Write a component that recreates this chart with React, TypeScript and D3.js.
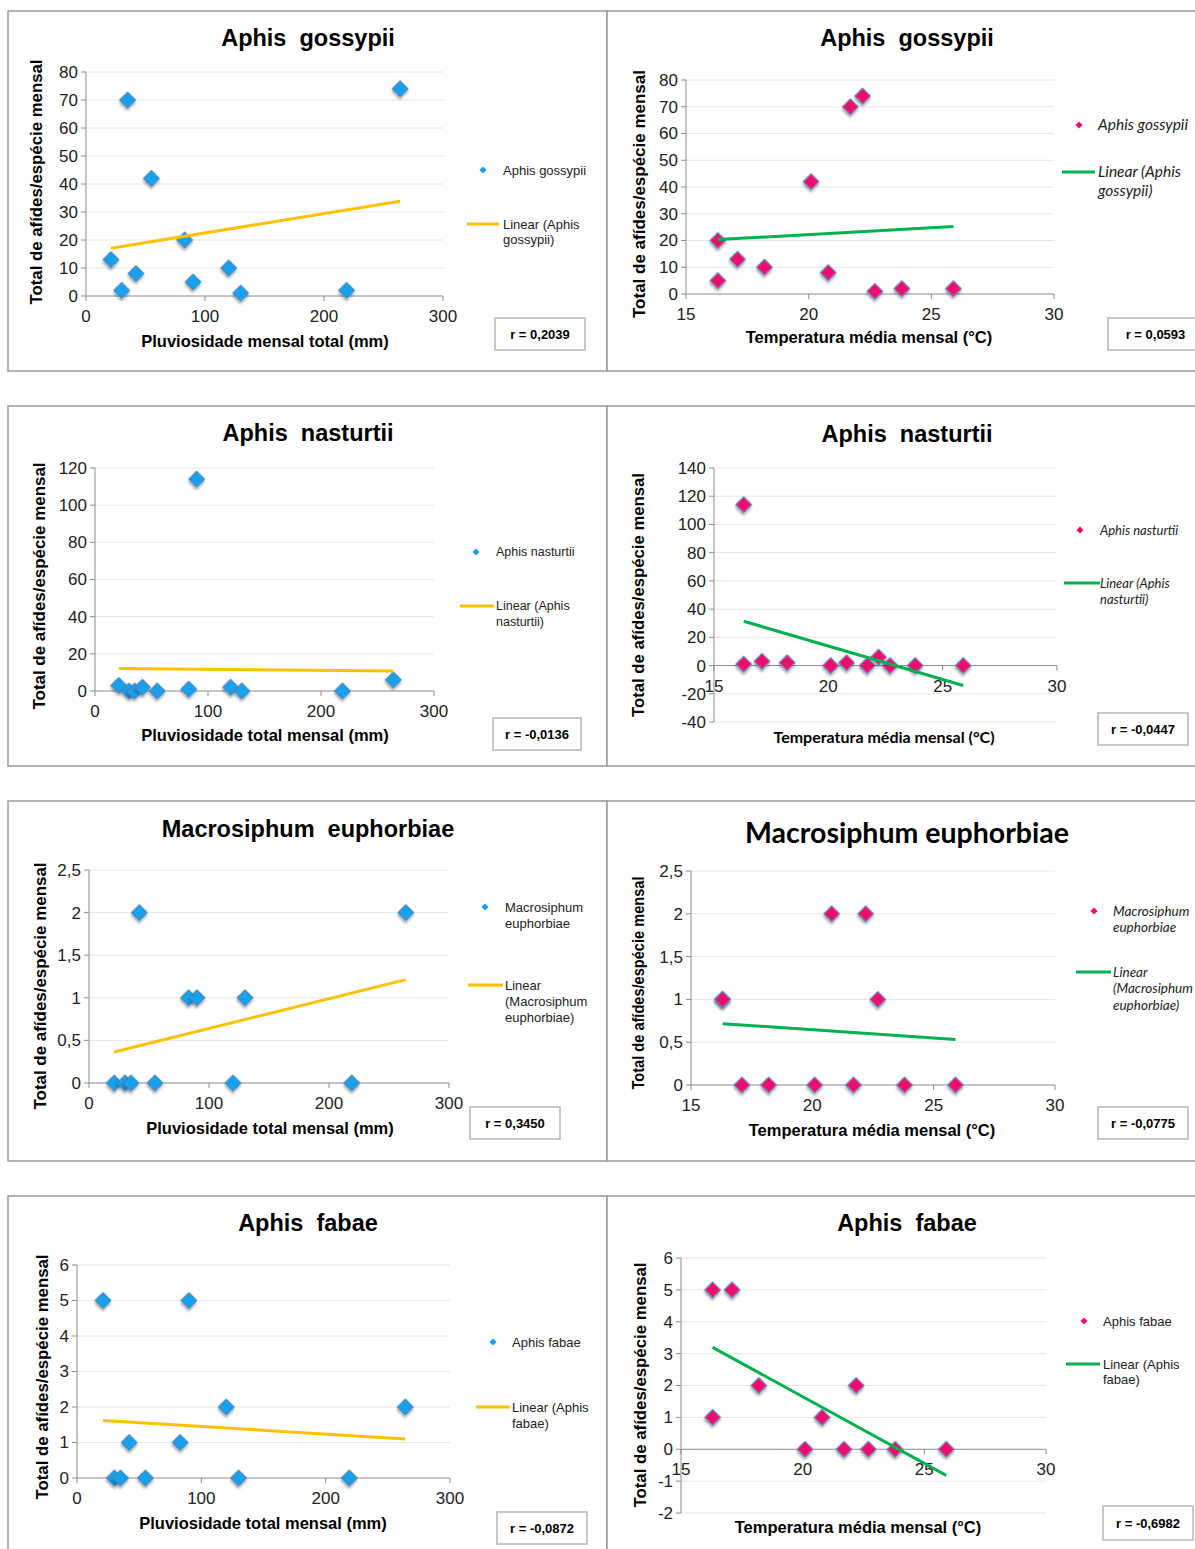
import * as d3 from 'd3'

// monthly climate values (one entry per sampled month)
const rainfall = [21, 30, 35, 42, 55, 83, 90, 120, 130, 219, 264]
const temperature = [17.1, 25.9, 21.7, 20.8, 20.1, 16.3, 16.3, 18.2, 22.7, 23.8, 22.2]

// monthly aphid totals per species
const gossypii = [13, 2, 70, 8, 42, 20, 5, 10, 1, 2, 74]
const nasturtii = [3, 0, 0, 2, 0, 1, 114, 2, 0, 0, 6]
const euphorbiae = [0, 0, 0, 2, 0, 1, 1, 0, 1, 0, 2]
const fabae = [5, 0, 0, 1, 0, 1, 5, 2, 0, 0, 2]

const rainTicks = [0, 100, 200, 300]
const tempTicks = [15, 20, 25, 30]
const ticksGossypii = [0, 10, 20, 30, 40, 50, 60, 70, 80]
const ticksNastRain = [0, 20, 40, 60, 80, 100, 120]
const ticksNastTemp = [-40, -20, 0, 20, 40, 60, 80, 100, 120, 140]
const ticksEuph = [0, 0.5, 1, 1.5, 2, 2.5]
const ticksFabRain = [0, 1, 2, 3, 4, 5, 6]
const ticksFabTemp = [-2, -1, 0, 1, 2, 3, 4, 5, 6]

const rLabels = ['r = 0,2039', 'r = 0,0593', 'r = -0,0136', 'r = -0,0447', 'r = 0,3450', 'r = -0,0775', 'r = -0,0872', 'r = -0,6982']
const yTitle = 'Total de afídes/espécie mensal'

const ARIAL = '"Liberation Sans", Arial, sans-serif'
const CALI = 'Lato, "Open Sans", sans-serif'
const BLUE = '#12a1ea'
const PINK = '#ee106d'
const YELLOW = '#ffc000'
const GREEN = '#00b050'

const panels = [
  {
    values: gossypii, vs: 'rain', ticks: ticksGossypii, box: [8, 11, 607, 371], x0: 86, x1: 443, yTop: 72, yBot: 296,
    title: 'Aphis  gossypii', titleY: 38, titleFont: ARIAL, titleSize: 23.5,
    xLabel: 'Pluviosidade mensal total (mm)', xLabelX: 265, xLabelY: 341, xLabelFont: ARIAL,
    yLabelX: 36, yLabelY: 182, yLabelLen: 245,
    leg: { mx: 483, my: 170, lx0: 467, lx1: 499, ly: 224, tx: 503, italic: false, fs: 13, font: ARIAL, name: ['Aphis gossypii'], lin: ['Linear (Aphis', 'gossypii)'], lh: 15 },
    rBox: [495, 318, 90, 32],
  },
  {
    values: gossypii, vs: 'temp', ticks: ticksGossypii, box: [607, 11, 1210, 371], x0: 686, x1: 1054, yTop: 80, yBot: 294,
    title: 'Aphis  gossypii', titleY: 38, titleFont: ARIAL, titleSize: 23.5,
    xLabel: 'Temperatura média mensal (°C)', xLabelX: 869, xLabelY: 337, xLabelFont: ARIAL,
    yLabelX: 639, yLabelY: 194, yLabelLen: 248,
    leg: { mx: 1079, my: 125, lx0: 1062, lx1: 1095, ly: 172, tx: 1098, italic: true, fs: 15.5, font: CALI, name: ['Aphis gossypii'], lin: ['Linear (Aphis', 'gossypii)'], lh: 19 },
    rBox: [1108, 318, 95, 32],
  },
  {
    values: nasturtii, vs: 'rain', ticks: ticksNastRain, box: [8, 406, 607, 766], x0: 95, x1: 434, yTop: 468, yBot: 691,
    title: 'Aphis  nasturtii', titleY: 433, titleFont: ARIAL, titleSize: 23.5,
    xLabel: 'Pluviosidade total mensal (mm)', xLabelX: 265, xLabelY: 735, xLabelFont: ARIAL,
    yLabelX: 39, yLabelY: 586, yLabelLen: 247,
    leg: { mx: 476, my: 552, lx0: 460, lx1: 494, ly: 606, tx: 496, italic: false, fs: 12.5, font: ARIAL, name: ['Aphis nasturtii'], lin: ['Linear (Aphis', 'nasturtii)'], lh: 16 },
    rBox: [493, 718, 88, 32],
  },
  {
    values: nasturtii, vs: 'temp', ticks: ticksNastTemp, box: [607, 406, 1210, 766], x0: 714, x1: 1057, yTop: 468, yBot: 722,
    title: 'Aphis  nasturtii', titleY: 434, titleFont: ARIAL, titleSize: 23.5,
    xLabel: 'Temperatura média mensal (°C)', xLabelX: 884, xLabelY: 737, xLabelFont: CALI, xLabelSize: 16,
    yLabelX: 638, yLabelY: 595, yLabelLen: 244,
    leg: { mx: 1080, my: 530, lx0: 1064, lx1: 1100, ly: 583, tx: 1100, italic: true, fs: 13, font: CALI, name: ['Aphis nasturtii'], lin: ['Linear (Aphis', 'nasturtii)'], lh: 16 },
    rBox: [1098, 713, 90, 32],
  },
  {
    values: euphorbiae, vs: 'rain', ticks: ticksEuph, box: [8, 801, 607, 1161], x0: 89, x1: 449, yTop: 870, yBot: 1083,
    title: 'Macrosiphum  euphorbiae', titleY: 829, titleFont: ARIAL, titleSize: 23.5,
    xLabel: 'Pluviosidade total mensal (mm)', xLabelX: 270, xLabelY: 1128, xLabelFont: ARIAL,
    yLabelX: 40, yLabelY: 986, yLabelLen: 247,
    leg: { mx: 485, my: 907, lx0: 468, lx1: 503, ly: 985, tx: 505, italic: false, fs: 13, font: ARIAL, name: ['Macrosiphum', 'euphorbiae'], lin: ['Linear', '(Macrosiphum', 'euphorbiae)'], lh: 16 },
    rBox: [470, 1107, 90, 32],
  },
  {
    values: euphorbiae, vs: 'temp', ticks: ticksEuph, box: [607, 801, 1210, 1161], x0: 691, x1: 1055, yTop: 871, yBot: 1085,
    title: 'Macrosiphum euphorbiae', titleY: 833, titleFont: CALI, titleSize: 28.5,
    xLabel: 'Temperatura média mensal (°C)', xLabelX: 872, xLabelY: 1130, xLabelFont: ARIAL,
    yLabelX: 638, yLabelY: 983, yLabelLen: 213,
    leg: { mx: 1094, my: 911, lx0: 1076, lx1: 1111, ly: 972, tx: 1113, italic: true, fs: 13.5, font: CALI, name: ['Macrosiphum', 'euphorbiae'], lin: ['Linear', '(Macrosiphum', 'euphorbiae)'], lh: 16.5 },
    rBox: [1098, 1107, 90, 32],
  },
  {
    values: fabae, vs: 'rain', ticks: ticksFabRain, box: [8, 1196, 607, 1570], x0: 77, x1: 450, yTop: 1265, yBot: 1478,
    title: 'Aphis  fabae', titleY: 1223, titleFont: ARIAL, titleSize: 23.5,
    xLabel: 'Pluviosidade total mensal (mm)', xLabelX: 263, xLabelY: 1523, xLabelFont: ARIAL,
    yLabelX: 42, yLabelY: 1377, yLabelLen: 245,
    leg: { mx: 493, my: 1342, lx0: 476, lx1: 510, ly: 1407, tx: 512, italic: false, fs: 13, font: ARIAL, name: ['Aphis fabae'], lin: ['Linear (Aphis', 'fabae)'], lh: 16 },
    rBox: [497, 1512, 90, 32],
  },
  {
    values: fabae, vs: 'temp', ticks: ticksFabTemp, box: [607, 1196, 1210, 1570], x0: 681, x1: 1046, yTop: 1258, yBot: 1513,
    title: 'Aphis  fabae', titleY: 1223, titleFont: ARIAL, titleSize: 23.5,
    xLabel: 'Temperatura média mensal (°C)', xLabelX: 858, xLabelY: 1527, xLabelFont: ARIAL,
    yLabelX: 640, yLabelY: 1385, yLabelLen: 245,
    leg: { mx: 1084, my: 1321, lx0: 1066, lx1: 1100, ly: 1364, tx: 1103, italic: false, fs: 13, font: ARIAL, name: ['Aphis fabae'], lin: ['Linear (Aphis', 'fabae)'], lh: 15 },
    rBox: [1103, 1506, 90, 34],
  },
]

const bigDiamond = d3.symbol(d3.symbolSquare, 128)()
const smallDiamond = d3.symbol(d3.symbolSquare, 26)()
const fmt = (d: number) => String(d).replace('.', ',')

function Panel({ p, idx }: { p: any; idx: number }) {
  const xs = p.vs === 'rain' ? rainfall : temperature
  const xTicks = p.vs === 'rain' ? rainTicks : tempTicks
  const ys: number[] = p.values
  const fill = p.vs === 'rain' ? BLUE : PINK
  const trendColor = p.vs === 'rain' ? YELLOW : GREEN

  const x = d3.scaleLinear().domain([xTicks[0], xTicks[xTicks.length - 1]]).range([p.x0, p.x1])
  const y = d3.scaleLinear().domain([p.ticks[0], p.ticks[p.ticks.length - 1]]).range([p.yBot, p.yTop])

  // least squares trend line over the data range
  const mx = d3.mean(xs) as number
  const my = d3.mean(ys) as number
  const sxy = d3.sum(xs, (v, i) => (v - mx) * (ys[i] - my))
  const sxx = d3.sum(xs, (v) => (v - mx) ** 2)
  const slope = sxy / sxx
  const icpt = my - slope * mx
  const [lo, hi] = d3.extent(xs) as [number, number]
  const trend = d3.line()([
    [x(lo), y(icpt + slope * lo)],
    [x(hi), y(icpt + slope * hi)],
  ])

  const y0 = y(0)
  const [bx0, by0, bx1, by1] = p.box
  const L = p.leg
  const legStyle = L.italic ? 'italic' : 'normal'

  return (
    <g>
      <rect x={bx0} y={by0} width={bx1 - bx0} height={by1 - by0} fill="#fff" stroke="#9a9a9a" strokeWidth={1.5} />
      <text x={bx0 + 300} y={p.titleY} textAnchor="middle" dy="0.35em"
        fontFamily={p.titleFont} fontWeight="bold" fontSize={p.titleSize} style={{ whiteSpace: 'pre' }}>
        {p.title}
      </text>

      {p.ticks.map((t: number) => (
        <g key={'g' + t}>
          {t !== 0 && <line x1={p.x0} x2={p.x1} y1={y(t)} y2={y(t)} stroke="#e8e8de" strokeWidth={1} />}
          <line x1={p.x0 - 5} x2={p.x0} y1={y(t)} y2={y(t)} stroke="#8c8c8c" />
          <text x={p.x0 - 8} y={y(t)} dy="0.35em" textAnchor="end" fontFamily={ARIAL} fontSize={17} fill="#222">
            {fmt(t)}
          </text>
        </g>
      ))}
      <line x1={p.x0} x2={p.x0} y1={p.yTop} y2={p.yBot} stroke="#8c8c8c" />
      <line x1={p.x0} x2={p.x1} y1={y0} y2={y0} stroke="#8c8c8c" />
      {xTicks.map((t: number) => (
        <g key={'x' + t}>
          <line x1={x(t)} x2={x(t)} y1={y0} y2={y0 + 5} stroke="#8c8c8c" />
          <text x={x(t)} y={y0 + 20} dy="0.35em" textAnchor="middle" fontFamily={ARIAL} fontSize={17} fill="#222">
            {t}
          </text>
        </g>
      ))}

      {xs.map((v, i) => (
        <path key={'m' + i} d={bigDiamond as string} transform={`translate(${x(v)},${y(ys[i])}) rotate(45)`}
          fill={fill} stroke="#4a7ebb" strokeWidth={1} filter="url(#sh)" />
      ))}
      <path d={trend as string} stroke={trendColor} strokeWidth={3} fill="none" />

      <text x={p.xLabelX} y={p.xLabelY} dy="0.35em" textAnchor="middle" fontFamily={p.xLabelFont}
        fontWeight="bold" fontSize={p.xLabelSize || 16.5}>
        {p.xLabel}
      </text>
      <text transform={`translate(${p.yLabelX},${p.yLabelY}) rotate(-90)`} dy="0.35em" textAnchor="middle"
        fontFamily={ARIAL} fontWeight="bold" fontSize={16.5} textLength={p.yLabelLen} lengthAdjust="spacingAndGlyphs">
        {yTitle}
      </text>

      <path d={smallDiamond as string} transform={`translate(${L.mx},${L.my}) rotate(45)`} fill={fill} />
      {L.name.map((s: string, i: number) => (
        <text key={'n' + i} x={L.tx} y={L.my + i * L.lh} dy="0.35em" fontFamily={L.font} fontStyle={legStyle}
          fontSize={L.fs} fill="#222">
          {s}
        </text>
      ))}
      <line x1={L.lx0} x2={L.lx1} y1={L.ly} y2={L.ly} stroke={trendColor} strokeWidth={3} />
      {L.lin.map((s: string, i: number) => (
        <text key={'l' + i} x={L.tx} y={L.ly + i * L.lh} dy="0.35em" fontFamily={L.font} fontStyle={legStyle}
          fontSize={L.fs} fill="#222">
          {s}
        </text>
      ))}

      <rect x={p.rBox[0]} y={p.rBox[1]} width={p.rBox[2]} height={p.rBox[3]} fill="#fff" stroke="#b5b5b5" strokeWidth={1.5} />
      <text x={p.rBox[0] + p.rBox[2] / 2} y={p.rBox[1] + p.rBox[3] / 2} dy="0.35em" textAnchor="middle"
        fontFamily={ARIAL} fontWeight="bold" fontSize={13}>
        {rLabels[idx]}
      </text>
    </g>
  )
}

export default function App() {
  return (
    <svg width={1195} height={1549} style={{ position: 'absolute', left: 0, top: 0, background: '#fff' }}>
      <defs>
        <filter id="sh" x="-50%" y="-50%" width="200%" height="200%">
          <feDropShadow dx={1.5} dy={2} stdDeviation={1.3} floodColor="#000" floodOpacity={0.35} />
        </filter>
      </defs>
      {panels.map((p, i) => (
        <Panel key={i} p={p} idx={i} />
      ))}
    </svg>
  )
}
